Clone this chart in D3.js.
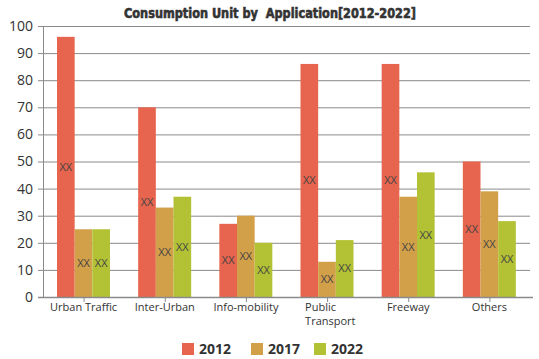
<!DOCTYPE html>
<html><head><meta charset="utf-8">
<script src="https://cdn.jsdelivr.net/npm/d3@7"></script>
<style>body{margin:0;background:#fff}svg{display:block}</style>
</head><body>
<script>
const categories = ["Urban Traffic","Inter-Urban","Info-mobility","Public Transport","Freeway","Others"];
const seriesNames = ["2012","2017","2022"];
const values2012 = [96,70,27,86,86,50];
const values2017 = [25,33,30,13,37,39];
const values2022 = [25,37,20,21,46,28];
const yTicks = [0,10,20,30,40,50,60,70,80,90,100];
const colors = ["#E7654E","#D3A04A","#B3C235"];
const title = "Consumption Unit by  Application[2012-2022]";

const W=539,H=359;
const svg=d3.select("body").append("svg").attr("width",W).attr("height",H);
const x=d3.scaleBand().domain(categories).range([43,530]);
const inner=d3.scaleBand().domain(seriesNames).range([14,67]);
const y=d3.scaleLinear().domain([0,100]).range([297,26]);

// gridlines
svg.append("g").selectAll("line").data(yTicks).join("line")
 .attr("x1",38).attr("x2",530).attr("y1",d=>y(d)+0.5).attr("y2",d=>y(d)+0.5)
 .attr("stroke","#8a8a8a").attr("stroke-width",1);
// y labels
svg.append("g").selectAll("text").data(yTicks).join("text")
 .attr("x",33).attr("y",d=>y(d)).attr("dy","0.35em").attr("text-anchor","end")
 .attr("font-family","Open Sans, sans-serif").attr("font-size",14).attr("fill","#333")
 .text(d=>d);
// y axis line
svg.append("line").attr("x1",43.5).attr("x2",43.5).attr("y1",26).attr("y2",297).attr("stroke","#8a8a8a");

const series=[values2012,values2017,values2022];
const data=[];
categories.forEach((c,i)=>seriesNames.forEach((s,j)=>data.push({c,s,v:series[j][i],j})));
svg.append("g").selectAll("rect").data(data).join("rect")
 .attr("x",d=>x(d.c)+inner(d.s)).attr("width",inner.bandwidth())
 .attr("y",d=>y(d.v)).attr("height",d=>y(0)-y(d.v)).attr("fill",d=>colors[d.j]);
svg.append("g").selectAll("text").data(data).join("text")
 .attr("x",d=>x(d.c)+inner(d.s)+inner.bandwidth()/2).attr("y",d=>y(d.v/2))
 .attr("dy","0.35em").attr("text-anchor","middle")
 .attr("font-family","Open Sans, sans-serif").attr("font-size",11).attr("fill","#444")
 .text("XX");

// x axis
svg.append("line").attr("x1",38).attr("x2",533).attr("y1",297.5).attr("y2",297.5).attr("stroke","#8a8a8a").attr("stroke-width",1.5);
svg.append("g").selectAll("line").data(categories).join("line")
 .attr("x1",d=>x(d)+x.bandwidth()/2+0.5).attr("x2",d=>x(d)+x.bandwidth()/2+0.5)
 .attr("y1",297).attr("y2",302).attr("stroke","#8a8a8a");
const xl=svg.append("g").selectAll("text").data(categories).join("text")
 .attr("font-family","Open Sans, sans-serif").attr("font-size",11).attr("fill","#333");
xl.each(function(d){
  const t=d3.select(this);
  const cx=x(d)+x.bandwidth()/2;
  if(d==="Public Transport"){
    const parts=d.split(" ");
    t.attr("text-anchor","start");
    parts.forEach((p,k)=>t.append("tspan").attr("x",cx-22).attr("y",311+k*14).text(p));
  } else {
    t.attr("text-anchor","middle").attr("x",cx).attr("y",311).text(d);
  }
});

// title
svg.append("text").attr("x",270).attr("y",18).attr("text-anchor","middle")
 .attr("xml:space","preserve").style("white-space","pre")
 .attr("font-family","DejaVu Sans Condensed, Liberation Sans Narrow, sans-serif").attr("font-weight","900")
 .attr("font-size",14).attr("fill","#333").attr("stroke","#333").attr("stroke-width",0.6)
 .attr("textLength",292).attr("lengthAdjust","spacingAndGlyphs")
 .text(title);

// legend
const lx=[182,251,314];
const lg=svg.append("g").selectAll("g").data(seriesNames).join("g")
 .attr("transform",(d,i)=>`translate(${lx[i]},343)`);
lg.append("rect").attr("width",12).attr("height",12).attr("fill",(d,i)=>colors[i]);
lg.append("text").attr("x",17).attr("y",6).attr("dy","0.35em")
 .attr("font-family","Open Sans, sans-serif").attr("font-weight","bold").attr("font-size",14).attr("fill","#333")
 .text(d=>d);
</script>
</body></html>
